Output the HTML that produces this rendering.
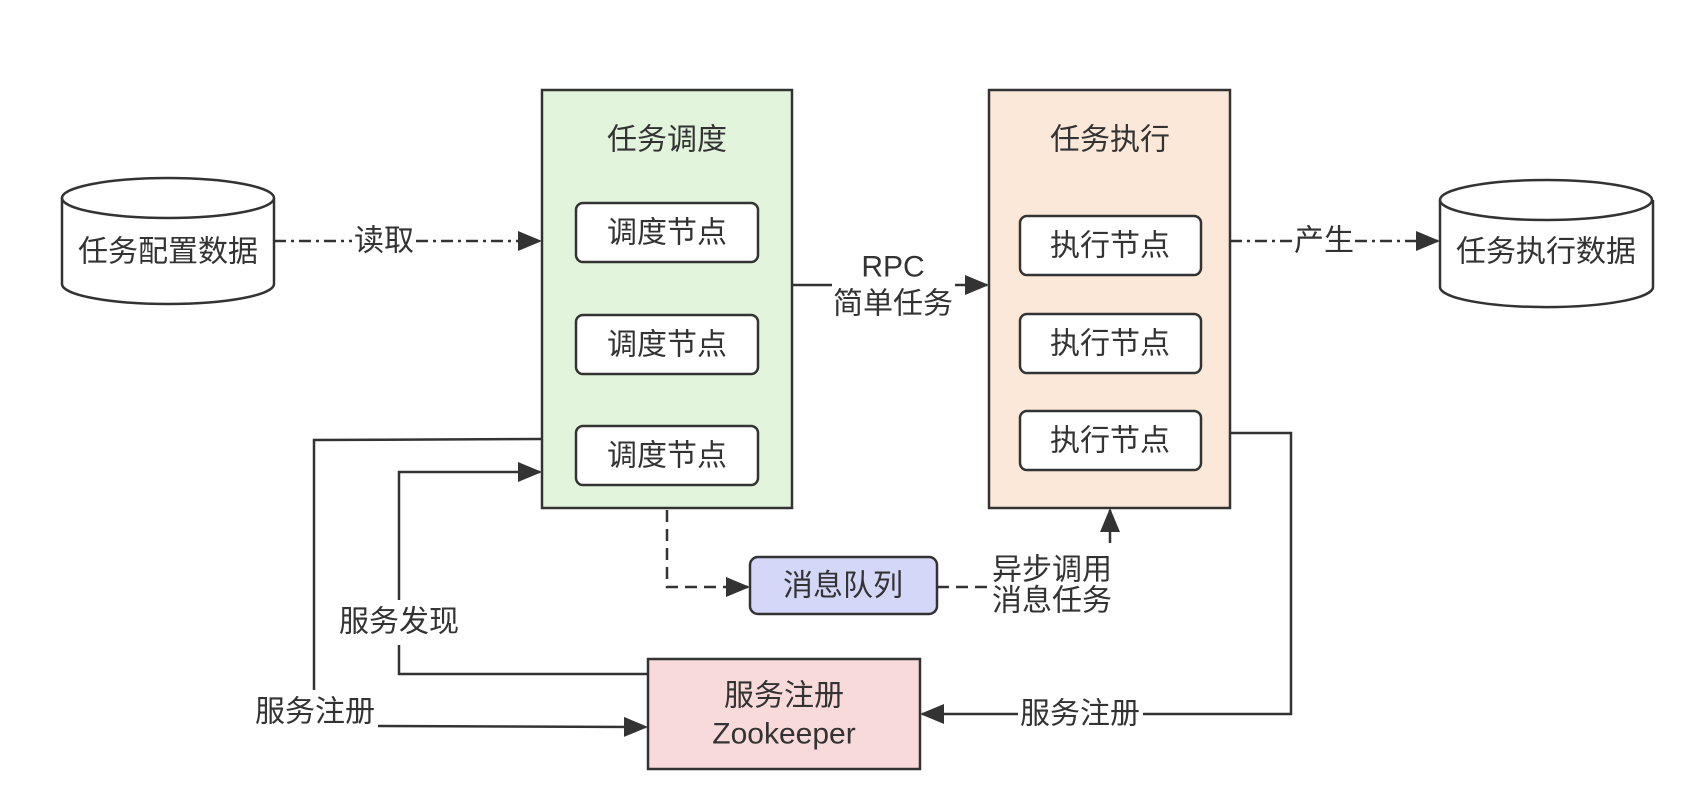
<!DOCTYPE html>
<html><head><meta charset="utf-8"><style>
html,body{margin:0;padding:0;background:#fff}
svg{display:block}
text{font-family:"Liberation Sans","Noto Sans CJK SC",sans-serif;fill:#333;font-size:30px;text-anchor:middle;dominant-baseline:central}
</style></head><body>
<svg width="1704" height="808" viewBox="0 0 1704 808" xmlns="http://www.w3.org/2000/svg">
<defs>
<marker id="b" markerWidth="24" markerHeight="24" refX="22" refY="12" orient="auto" markerUnits="userSpaceOnUse"><path d="M0,2 L24,12 L0,22 Z" fill="#333"/></marker>
</defs>
<g stroke="#333" stroke-width="2.5" fill="none">
<rect x="542" y="90" width="250" height="418" fill="#e2f5dc"/>
<rect x="989" y="90" width="241" height="418" fill="#fbe8d9"/>
<rect x="576" y="203" width="182" height="59" rx="7" fill="#fff"/>
<rect x="576" y="315" width="182" height="59" rx="7" fill="#fff"/>
<rect x="576" y="426" width="182" height="59" rx="7" fill="#fff"/>
<rect x="1020" y="216" width="181" height="59" rx="7" fill="#fff"/>
<rect x="1020" y="314" width="181" height="59" rx="7" fill="#fff"/>
<rect x="1020" y="411" width="181" height="59" rx="7" fill="#fff"/>
<rect x="750" y="557" width="187" height="57" rx="8" fill="#d4d7f7"/>
<rect x="648" y="659" width="272" height="110" fill="#f9dada"/>
<path d="M62,198 L62,284 A106,20 0 0 0 274,284 L274,198" fill="#fff"/>
<ellipse cx="168" cy="198" rx="106" ry="20" fill="#fff"/>
<path d="M1440,200 L1440,287 A106,20 0 0 0 1653,287 L1653,200" fill="#fff"/>
<ellipse cx="1546" cy="200" rx="106" ry="20" fill="#fff"/>
<path d="M274,241 L352,241 M416,241 L540,241" stroke-dasharray="12,5,3,5" marker-end="url(#b)"/>
<path d="M1230,241 L1293,241 M1355,241 L1438,241" stroke-dasharray="12,5,3,5" marker-end="url(#b)"/>
<path d="M792,285 L832,285"/>
<path d="M955,285 L987,285" marker-end="url(#b)"/>
<path d="M667,510 L667,587 L748,587" stroke-dasharray="12,7" marker-end="url(#b)"/>
<path d="M937,587 L992,587" stroke-dasharray="12,7"/>
<path d="M1110,543 L1110,510" marker-end="url(#b)"/>
<path d="M542,439 L314,440 L314,690"/>
<path d="M378,726 L646,727" marker-end="url(#b)"/>
<path d="M648,674 L399,674 L399,645"/>
<path d="M399,600 L399,472 L540,472" marker-end="url(#b)"/>
<path d="M1230,433 L1291,433 L1291,714 L1143,714"/>
<path d="M1018,714 L922,714" marker-end="url(#b)"/>
</g>
<text x="667" y="140">任务调度</text>
<text x="1110" y="140">任务执行</text>
<text x="667" y="233">调度节点</text>
<text x="667" y="345">调度节点</text>
<text x="667" y="456">调度节点</text>
<text x="1110" y="246">执行节点</text>
<text x="1110" y="344">执行节点</text>
<text x="1110" y="441">执行节点</text>
<text x="843" y="586">消息队列</text>
<text x="784" y="696">服务注册</text>
<text x="784" y="734">Zookeeper</text>
<text x="168" y="252">任务配置数据</text>
<text x="1546" y="252">任务执行数据</text>
<text x="384" y="241">读取</text>
<text x="1324" y="241">产生</text>
<text x="893" y="267">RPC</text>
<text x="893" y="304">简单任务</text>
<text x="1052" y="570">异步调用</text>
<text x="1052" y="601">消息任务</text>
<text x="399" y="622">服务发现</text>
<text x="315" y="712">服务注册</text>
<text x="1080" y="714">服务注册</text>
</svg>
</body></html>
